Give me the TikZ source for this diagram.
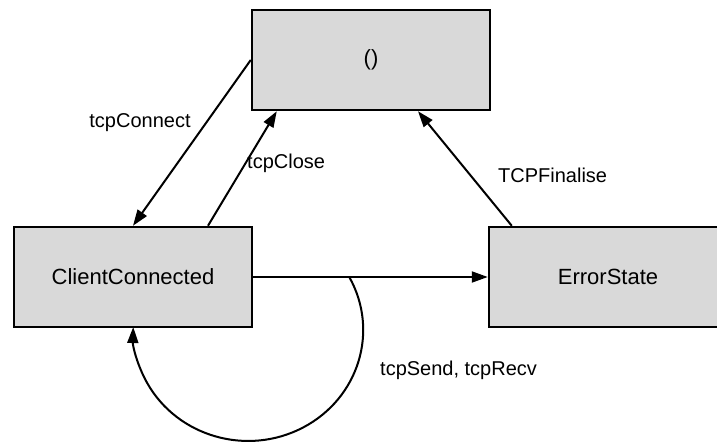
\documentclass[tikz,border=0pt]{standalone}
\usepackage{fontspec}
\setmainfont{Liberation Sans}
\usetikzlibrary{arrows.meta,calc}

\definecolor{statefill}{HTML}{D9D9D9}

\tikzset{
  state/.style={draw=black, line width=2.5pt, fill=statefill,
    minimum width=238pt, minimum height=100pt, inner sep=0pt,
    font=\fontsize{22}{26}\selectfont},
  trans/.style={line width=2pt, -{Triangle[length=16pt,width=11pt]}},
  translabel/.style={font=\fontsize{20}{24}\selectfont, inner sep=0pt}
}

\begin{document}
\begin{tikzpicture}[x=1pt,y=-1pt]
  \clip (0,0) rectangle (717,443);

  % states
  \node[state] (init)  at (371,60)  {()};
  \node[state] (client) at (133,277) {ClientConnected};
  \node[state] (error)  at (608,277) {ErrorState};

  % transitions
  \draw[trans] (init.west) -- (client.north);
  \draw[trans] ($(client.north)+(75,0)$) -- ($(init.south west)+(26,0)$);
  \draw[trans] (client.east) -- (error.west);
  \draw[trans] ($(error.north west)+(24,0)$) -- ($(init.south)+(47,0)$);

  % self loop on ClientConnected
  \coordinate (loopstart) at ($(client.east)+(96,0)$);
  \draw[trans] (loopstart) arc[start angle=-28.5, end angle=181.5,
    x radius=115, y radius=111];

  % transition labels
  \node[translabel] (lconnect) at (140,123) {tcpConnect};
  \node[translabel, anchor=west] (lclose) at (247,163) {tcpClose};
  \node[translabel, anchor=west] (lfinal) at (498,175) {TCPFinalise};
  \node[translabel, anchor=west] (lsend) at (380,370) {tcpSend, tcpRecv};
\end{tikzpicture}
\end{document}
